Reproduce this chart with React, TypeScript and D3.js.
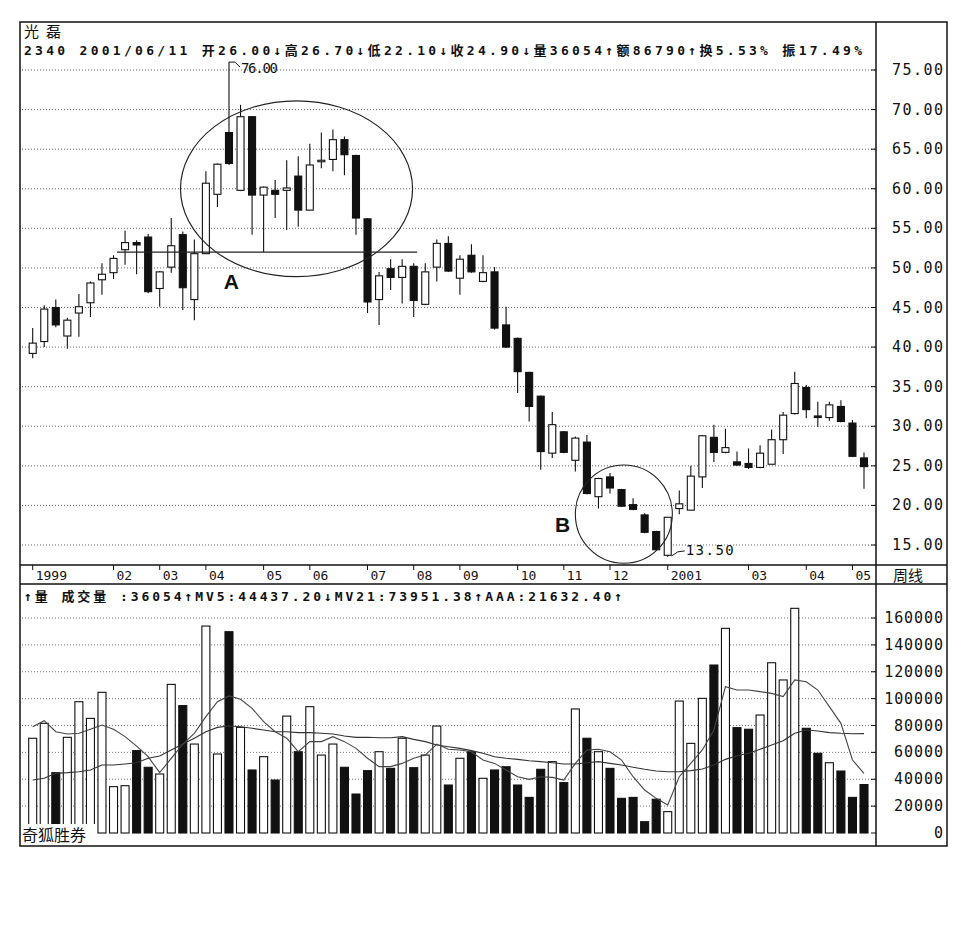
import React, { useEffect, useRef } from "react";
import * as d3 from "d3";

// weekly candles, 光磊 (2340)
const opens = [39.2, 40.7, 45.0, 41.4, 44.3, 45.6, 48.5, 49.4, 52.3, 53.2,
  53.9, 47.4, 50.1, 54.2, 46.0, 51.8, 59.3, 67.1, 59.8, 69.1,
  59.2, 59.8, 59.8, 61.6, 57.3, 63.5, 63.7, 66.2, 64.2, 56.2,
  46.0, 49.9, 48.8, 50.2, 45.4, 50.1, 53.1, 48.7, 51.6, 48.3,
  49.5, 42.8, 41.1, 36.8, 33.8, 26.6, 29.3, 25.7, 28.0, 21.1,
  23.6, 22.0, 20.1, 18.8, 16.7, 13.7, 19.6, 19.4, 23.6, 28.6,
  26.7, 25.5, 25.3, 24.8, 25.2, 28.3, 31.6, 34.9, 31.3, 31.1,
  32.5, 30.4, 26.0];
const highs = [42.4, 45.3, 46.0, 43.7, 46.7, 48.3, 50.6, 51.6, 54.7, 53.5,
  54.3, 49.6, 56.3, 54.6, 53.6, 62.2, 63.2, 76.0, 70.6, 69.2,
  60.3, 61.1, 63.6, 64.1, 65.7, 67.1, 67.5, 66.6, 64.3, 56.3,
  49.5, 51.1, 51.1, 50.6, 50.6, 53.6, 54.0, 51.6, 53.0, 51.6,
  50.1, 45.1, 41.2, 36.9, 33.9, 31.8, 29.4, 28.7, 28.9, 23.5,
  24.1, 22.1, 20.9, 19.0, 16.8, 18.5, 21.9, 25.0, 28.9, 30.2,
  29.7, 26.8, 27.2, 27.6, 29.6, 31.8, 36.9, 35.2, 33.1, 33.1,
  33.3, 30.8, 26.7];
const lows = [38.6, 40.0, 42.5, 39.8, 41.3, 43.8, 46.6, 48.6, 50.4, 49.2,
  46.8, 45.1, 49.4, 44.7, 43.4, 51.8, 57.7, 63.0, 59.7, 54.2,
  52.0, 56.3, 54.8, 55.2, 57.3, 62.6, 62.2, 61.7, 54.2, 44.3,
  42.8, 47.2, 45.5, 43.8, 45.3, 48.3, 49.5, 46.6, 49.4, 48.2,
  42.2, 39.9, 34.2, 30.6, 24.5, 26.0, 26.6, 24.3, 21.4, 19.6,
  21.5, 19.8, 19.4, 16.5, 14.3, 13.5, 18.9, 19.4, 22.2, 25.5,
  26.6, 25.0, 24.6, 24.7, 25.2, 26.5, 31.5, 31.0, 29.9, 30.7,
  30.5, 26.1, 22.1];
const closes = [40.5, 44.8, 42.8, 43.4, 45.1, 48.1, 49.2, 51.2, 53.2, 52.9,
  47.0, 49.5, 52.8, 47.5, 51.8, 60.7, 63.1, 63.2, 69.1, 59.2,
  60.2, 59.3, 60.1, 57.3, 63.0, 63.6, 66.2, 64.3, 56.3, 45.7,
  49.0, 48.8, 50.2, 45.9, 49.5, 53.1, 49.6, 51.1, 49.5, 49.4,
  42.4, 40.0, 36.9, 32.5, 26.8, 30.2, 26.7, 28.5, 21.5, 23.4,
  22.2, 19.9, 19.5, 16.6, 14.4, 18.5, 20.2, 23.7, 28.8, 26.7,
  27.3, 25.1, 24.8, 26.6, 28.3, 31.4, 35.4, 32.1, 31.1, 32.7,
  30.6, 26.2, 24.9];

const volumes = [70500, 81600, 44900, 71200, 97700, 85300, 104700, 34500, 35200, 61300,
  48900, 43900, 110600, 94800, 66200, 154000, 58800, 149800, 78600, 46900,
  56800, 39400, 87000, 60500, 94000, 58000, 66200, 48900, 29000, 46400,
  60500, 48100, 70500, 48600, 58000, 79600, 35700, 55600, 60500, 40700,
  46900, 49300, 35700, 26500, 47400, 53100, 37500, 92300, 70500, 60500,
  48100, 25800, 26500, 8400, 25100, 15900, 98200, 66700, 100200, 125000,
  152300, 78400, 77200, 87800, 126700, 113900, 167200, 77900, 59300, 52300,
  46100, 26500, 36054];
const mv5 = [79100, 83600, 75400, 73700, 74200, 77200, 80400, 77200, 71700, 64700,
  56800, 44900, 55600, 66200, 74200, 86600, 97700, 102000, 99500, 92800,
  82900, 75400, 70500, 60500, 68000, 68000, 71700, 68000, 63000, 55600,
  49400, 49400, 51800, 55600, 58000, 66200, 62300, 61800, 60500, 54300,
  51800, 46900, 41900, 39900, 41900, 41400, 39400, 51800, 61800, 62300,
  60500, 54300, 41900, 32000, 25800, 20800, 41900, 51800, 61800, 76700,
  108900, 106400, 106400, 105200, 103900, 101500, 113900, 112600, 106400, 94000,
  81600, 54300, 44437];
const mv21 = [39400, 40700, 44400, 44900, 45600, 46900, 50600, 50600, 51400, 52300,
  55600, 57300, 61800, 66200, 70500, 75400, 78600, 79600, 79100, 77900,
  76700, 75400, 75400, 74700, 74700, 74200, 73700, 72200, 71200, 71200,
  70900, 70900, 71700, 69700, 68000, 65500, 64200, 63000, 61300, 59300,
  56800, 55600, 54800, 53800, 53100, 52300, 51400, 51400, 52300, 53100,
  51800, 50600, 48900, 47400, 46100, 45600, 45600, 46400, 47600, 50600,
  54800, 57500, 59300, 62300, 65500, 68700, 74200, 76700, 75900, 74700,
  74200, 73900, 73951];

const priceTicks = [15, 20, 25, 30, 35, 40, 45, 50, 55, 60, 65, 70, 75];
const volumeTicks = [0, 20000, 40000, 60000, 80000, 100000, 120000, 140000, 160000];
const monthLabels = ["1999", "02", "03", "04", "05", "06", "07", "08", "09", "10", "11", "12", "2001", "03", "04", "05"];
const monthIndex = [0, 7, 11, 15, 20, 24, 29, 33, 37, 42, 46, 50, 55, 62, 67, 71];

const titleText = "光 磊";
const infoText = "2340 2001/06/11 开26.00↓高26.70↓低22.10↓收24.90↓量36054↑额86790↑换5.53% 振17.49%";
const volText = "↑量 成交量 :36054↑MV5:44437.20↓MV21:73951.38↑AAA:21632.40↑";

const W = 964, H = 939;
const mono = "'DejaVu Sans Mono', 'Noto Sans CJK SC', monospace";
const cjk = "'Noto Sans CJK SC', sans-serif";

export default function App() {
  const ref = useRef<SVGSVGElement>(null);

  useEffect(() => {
    const svg = d3.select(ref.current);
    svg.selectAll("*").remove();
    const n = closes.length;
    const idx = d3.range(n);

    const left = 20, right = 947, top = 22, bottom = 846, axisX = 876;
    const dateTop = 565, dateBot = 584;

    const x = d3.scaleLinear().domain([0, n - 1]).range([32.7, 864]);
    const yP = d3.scaleLinear().domain([15, 75]).range([545, 70]);
    const yV = d3.scaleLinear().domain([0, 160000]).range([833, 618]);

    svg.append("rect").attr("width", W).attr("height", H).attr("fill", "#fff");

    // grid lines
    svg.append("g").selectAll("line").data(priceTicks).join("line")
      .attr("x1", left + 2).attr("x2", axisX)
      .attr("y1", d => yP(d)).attr("y2", d => yP(d))
      .attr("stroke", "#666").attr("stroke-dasharray", "1,2");
    svg.append("g").selectAll("line").data(volumeTicks.slice(1)).join("line")
      .attr("x1", left + 2).attr("x2", axisX)
      .attr("y1", d => yV(d)).attr("y2", d => yV(d))
      .attr("stroke", "#777").attr("stroke-dasharray", "1,2");

    // frame
    svg.append("rect").attr("x", left).attr("y", top).attr("width", right - left).attr("height", bottom - top)
      .attr("fill", "none").attr("stroke", "#111").attr("stroke-width", 1.5);
    svg.append("line").attr("x1", axisX).attr("x2", axisX).attr("y1", top).attr("y2", bottom)
      .attr("stroke", "#111").attr("stroke-width", 1.5);
    [dateTop, dateBot].forEach(yy => {
      svg.append("line").attr("x1", left).attr("x2", right).attr("y1", yy).attr("y2", yy)
        .attr("stroke", "#111").attr("stroke-width", 1.3);
    });

    // price axis
    const pAxis = svg.append("g");
    pAxis.selectAll("line").data(priceTicks).join("line")
      .attr("x1", axisX - 5).attr("x2", axisX).attr("y1", d => yP(d)).attr("y2", d => yP(d))
      .attr("stroke", "#111");
    pAxis.selectAll("text").data(priceTicks).join("text")
      .attr("x", 943).attr("y", d => yP(d) + 5).attr("text-anchor", "end")
      .attr("font-family", mono).attr("font-size", 15).attr("fill", "#111")
      .attr("textLength", 51).attr("lengthAdjust", "spacing")
      .text(d => d.toFixed(2));

    // volume axis
    const vAxis = svg.append("g");
    vAxis.selectAll("line").data(volumeTicks).join("line")
      .attr("x1", axisX - 5).attr("x2", axisX).attr("y1", d => yV(d)).attr("y2", d => yV(d))
      .attr("stroke", "#111");
    vAxis.selectAll("text").data(volumeTicks).join("text")
      .attr("x", 943).attr("y", d => yV(d) + 5).attr("text-anchor", "end")
      .attr("font-family", mono).attr("font-size", 15).attr("fill", "#111")
      .attr("textLength", d => String(d).length * 9.8).attr("lengthAdjust", "spacing")
      .text(d => String(d));

    // date axis
    const dAxis = svg.append("g");
    dAxis.selectAll("line").data(monthIndex).join("line")
      .attr("x1", d => x(d)).attr("x2", d => x(d)).attr("y1", dateTop).attr("y2", dateTop + 5)
      .attr("stroke", "#111");
    dAxis.selectAll("text").data(monthIndex).join("text")
      .attr("x", d => x(d) + 3).attr("y", dateTop + 15)
      .attr("font-family", mono).attr("font-size", 13).attr("fill", "#111")
      .text((d, i) => monthLabels[i]);
    svg.append("text").attr("x", 893).attr("y", dateTop + 16)
      .attr("font-family", cjk).attr("font-size", 15).attr("fill", "#111").text("周线");

    // candles
    const cw = 7;
    const cg = svg.append("g");
    cg.selectAll("line").data(idx).join("line")
      .attr("x1", i => x(i)).attr("x2", i => x(i))
      .attr("y1", i => yP(highs[i])).attr("y2", i => yP(lows[i]))
      .attr("stroke", "#111").attr("stroke-width", 1.1);
    cg.selectAll("rect").data(idx).join("rect")
      .attr("x", i => x(i) - cw / 2)
      .attr("y", i => yP(Math.max(opens[i], closes[i])))
      .attr("width", cw)
      .attr("height", i => Math.max(1.5, Math.abs(yP(opens[i]) - yP(closes[i]))))
      .attr("fill", i => closes[i] >= opens[i] ? "#fff" : "#111")
      .attr("stroke", "#111").attr("stroke-width", 1.1);

    // volume bars
    const vw = 8;
    svg.append("g").selectAll("rect").data(idx).join("rect")
      .attr("x", i => x(i) - vw / 2).attr("y", i => yV(volumes[i]))
      .attr("width", vw).attr("height", i => yV(0) - yV(volumes[i]))
      .attr("fill", i => closes[i] >= opens[i] ? "#fff" : "#111")
      .attr("stroke", "#111").attr("stroke-width", 1.1);

    // moving averages
    const line = (arr: number[]) => d3.line<number>().x(i => x(i)).y(i => yV(arr[i]))(idx);
    svg.append("path").attr("d", line(mv21)).attr("fill", "none").attr("stroke", "#333").attr("stroke-width", 1.1);
    svg.append("path").attr("d", line(mv5)).attr("fill", "none").attr("stroke", "#444").attr("stroke-width", 1.1);

    // annotations: support line A, ellipses, labels
    svg.append("line").attr("x1", x(7.3)).attr("x2", x(33.3)).attr("y1", yP(52)).attr("y2", yP(52))
      .attr("stroke", "#222").attr("stroke-width", 1.2);
    svg.append("ellipse")
      .attr("cx", (x(12.8) + x(32.9)) / 2).attr("cy", (yP(71.1) + yP(48.9)) / 2)
      .attr("rx", (x(32.9) - x(12.8)) / 2).attr("ry", (yP(48.9) - yP(71.1)) / 2)
      .attr("fill", "none").attr("stroke", "#222").attr("stroke-width", 1.2);
    svg.append("ellipse")
      .attr("cx", (x(47) + x(55.4)) / 2).attr("cy", (yP(25.1) + yP(12.7)) / 2)
      .attr("rx", (x(55.4) - x(47)) / 2).attr("ry", (yP(12.7) - yP(25.1)) / 2)
      .attr("fill", "none").attr("stroke", "#222").attr("stroke-width", 1.1);
    svg.append("text").attr("x", x(17.2)).attr("y", yP(48.4) + 8).attr("text-anchor", "middle")
      .attr("font-family", "'Liberation Sans', Arial, sans-serif").attr("font-weight", "bold")
      .attr("font-size", 21).attr("fill", "#111").text("A");
    svg.append("text").attr("x", x(45.9)).attr("y", yP(17.6) + 8).attr("text-anchor", "middle")
      .attr("font-family", "'Liberation Sans', Arial, sans-serif").attr("font-weight", "bold")
      .attr("font-size", 21).attr("fill", "#111").text("B");

    // high / low markers
    const hi = d3.maxIndex(highs), lo = d3.minIndex(lows);
    const hx = x(hi), hy = yP(highs[hi]);
    svg.append("path").attr("d", `M${hx},${hy} L${hx + 6},${hy} L${hx + 11},${hy + 5}`)
      .attr("fill", "none").attr("stroke", "#111");
    svg.append("text").attr("x", hx + 12).attr("y", hy + 11)
      .attr("font-family", mono).attr("font-size", 14).attr("fill", "#111")
      .attr("textLength", 37).text(highs[hi].toFixed(2));
    const lx = x(lo), ly = yP(lows[lo]);
    svg.append("path").attr("d", `M${lx + 4},${ly - 1} L${lx + 10},${ly - 5} L${lx + 17},${ly - 6}`)
      .attr("fill", "none").attr("stroke", "#111");
    svg.append("text").attr("x", lx + 18).attr("y", ly - 2)
      .attr("font-family", mono).attr("font-size", 14).attr("fill", "#111")
      .attr("textLength", 48).text(lows[lo].toFixed(2));

    // header texts
    svg.append("text").attr("x", 24).attr("y", 37)
      .attr("font-family", cjk).attr("font-size", 15).attr("fill", "#111")
      .attr("textLength", 37).attr("lengthAdjust", "spacing").text(titleText);
    svg.append("text").attr("x", 24).attr("y", 55)
      .attr("font-family", mono).attr("font-size", 13).attr("font-weight", 600).attr("fill", "#111")
      .attr("textLength", 838).attr("lengthAdjust", "spacing").text(infoText);
    svg.append("text").attr("x", 24).attr("y", 601)
      .attr("font-family", mono).attr("font-size", 13).attr("font-weight", 600).attr("fill", "#111")
      .attr("textLength", 598).attr("lengthAdjust", "spacing").text(volText);

    // software mark
    svg.append("rect").attr("x", left + 1).attr("y", 824).attr("width", 76).attr("height", 21).attr("fill", "#fff");
    svg.append("text").attr("x", 22).attr("y", 841)
      .attr("font-family", cjk).attr("font-size", 16).attr("fill", "#111").text("奇狐胜券");
  }, []);

  return (
    <svg ref={ref} width={W} height={H} style={{ position: "absolute", left: 0, top: 0 }} />
  );
}
